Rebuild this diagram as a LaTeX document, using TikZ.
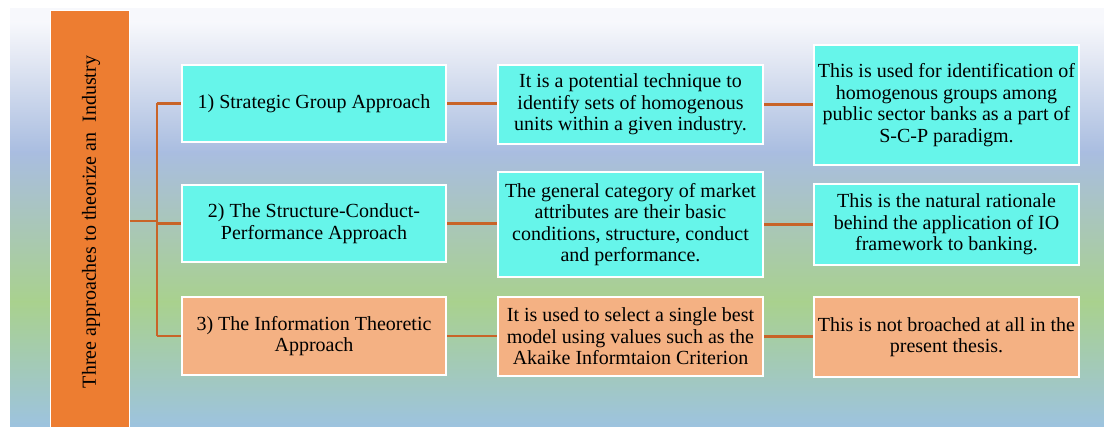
\documentclass[tikz,border=0pt]{standalone}
\usepackage{fontspec}
\setmainfont{Liberation Serif}
\definecolor{bgA}{HTML}{F7F8FC}
\definecolor{bgB}{HTML}{E2E7F3}
\definecolor{bgC}{HTML}{A9BDE0}
\definecolor{bgD}{HTML}{A9D18E}
\definecolor{bgE}{HTML}{9DC3DF}
\definecolor{barcol}{HTML}{ED7D31}
\definecolor{cyanbox}{HTML}{66F5EA}
\definecolor{salmonbox}{HTML}{F4B183}
\definecolor{linecol}{RGB}{200,100,40}
\tikzset{
  txt/.style={font=\fontsize{20}{21.5}\selectfont, align=center, inner sep=2pt},
  boxbase/.style={txt, draw=white, line width=2pt, minimum width=264pt},
  cbox/.style={boxbase, fill=cyanbox},
  sbox/.style={boxbase, fill=salmonbox},
  conn/.style={draw=linecol, line width=2.4pt}
}
\begin{document}
\begin{tikzpicture}[x=1pt,y=-1pt]
\useasboundingbox (0,0) rectangle (1104,427);
% background gradient
\fill[top color=bgA, bottom color=bgA] (10,9) rectangle (1104,22.5);
\fill[top color=bgA, bottom color=bgB] (10,22) rectangle (1104,60.5);
\fill[top color=bgB, bottom color=bgC] (10,60) rectangle (1104,152.5);
\fill[top color=bgC, bottom color=bgD] (10,152) rectangle (1104,302.5);
\fill[top color=bgD, bottom color=bgE] (10,302) rectangle (1104,427);
% left bar
\node[draw=white, line width=1pt, fill=barcol, minimum width=79pt, minimum height=418pt, inner sep=0pt] (bar) at (89.5,220) {};
\node[txt, rotate=90] (bartitle) at (91,222) {Three approaches to theorize an\ \ Industry};
% column 1
\node[cbox, minimum height=77pt] (a1) at (314,103.5) {1) Strategic Group Approach};
\node[cbox, minimum height=77pt] (a2) at (314,223.5) {2) The Structure-Conduct-\\Performance Approach};
\node[sbox, minimum height=78pt] (a3) at (314,336) {3) The Information Theoretic\\Approach};
% column 2
\node[cbox, minimum width=265pt, minimum height=79pt] (b1) at (630.5,104.5) {It is a potential technique to\\identify sets of homogenous\\units within a given industry.};
\node[cbox, minimum width=265pt, minimum height=105pt] (b2) at (630.5,224.5) {The general category of market\\attributes are their basic\\conditions, structure, conduct\\and performance.};
\node[sbox, minimum width=265pt, minimum height=79pt] (b3) at (630.5,336.5) {It is used to select a single best\\model using values such as the\\Akaike Informtaion Criterion};
% column 3
\node[cbox, minimum width=265pt, minimum height=120pt] (c1) at (946.5,105) {This is used for identification of\\homogenous groups among\\public sector banks as a part of\\S-C-P paradigm.};
\node[cbox, minimum width=265pt, minimum height=81pt] (c2) at (946.5,224.5) {This is the natural rationale\\behind the application of IO\\framework to banking.};
\node[sbox, minimum width=265pt, minimum height=80pt] (c3) at (946.5,337) {This is not broached at all in the\\present thesis.};
% connectors
\coordinate (j) at (157,221);
\draw[conn] (bar.east |- j) -- (j);
\draw[conn] (j |- a1.west) -- (j |- a3.west);
\draw[conn] (j |- a1.west) -- (a1.west);
\draw[conn] (j |- a2.west) -- (a2.west);
\draw[conn] (j |- a3.west) -- (a3.west);
\draw[conn] (a1.east) -- (a1.east -| b1.west);
\draw[conn] (a2.east) -- (a2.east -| b2.west);
\draw[conn] (a3.east) -- (a3.east -| b3.west);
\draw[conn] (b1.east) -- (b1.east -| c1.west);
\draw[conn] (b2.east) -- (b2.east -| c2.west);
\draw[conn] (b3.east) -- (b3.east -| c3.west);
\end{tikzpicture}
\end{document}
